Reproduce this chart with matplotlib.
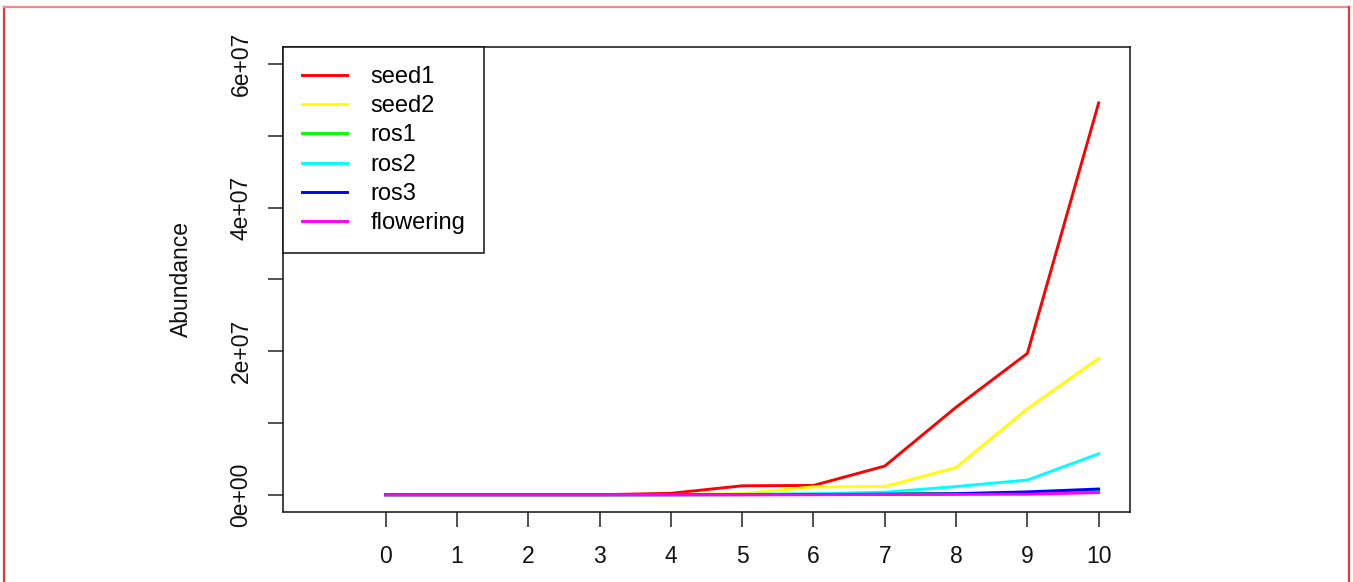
import numpy as np
import matplotlib
matplotlib.use("Agg")
import matplotlib.pyplot as plt
from matplotlib.lines import Line2D

# valores
generacion = list(range(11))
seed1 = [0, 0, 0, 0, 2.0e5, 1.25e6, 1.3e6, 4.0e6, 1.22e7, 1.97e7, 5.46e7]
seed2 = [0, 0, 0, 0, 3.0e4, 1.5e5, 1.1e6, 1.15e6, 3.8e6, 1.2e7, 1.9e7]
ros1 = [0, 0, 0, 0, 0, 2.0e4, 8.0e4, 1.5e5, 1.5e5, 3.0e5, 6.0e5]
ros2 = [0, 0, 0, 0, 1.0e4, 5.0e4, 1.5e5, 3.5e5, 1.15e6, 2.05e6, 5.7e6]
ros3 = [0, 0, 0, 0, 0, 1.0e4, 3.0e4, 8.0e4, 1.5e5, 4.0e5, 8.0e5]
flowering = [0, 0, 0, 0, 0, 0, 1.0e4, 3.0e4, 5.0e4, 8.0e4, 3.0e5]

etapas = ["seed1", "seed2", "ros1", "ros2", "ros3", "flowering"]
series = [seed1, seed2, ros1, ros2, ros3, flowering]
colores = ["#ff0000", "#ffff00", "#00ff00", "#00ffff", "#0000ff", "#ff00ff"]

ytick_vals = [0, 1e7, 2e7, 3e7, 4e7, 5e7, 6e7]
ytick_labels = ["0e+00", "", "2e+07", "", "4e+07", "", "6e+07"]

plt.rcParams["font.family"] = ["Liberation Sans", "DejaVu Sans"]

fig = plt.figure(figsize=(13.53, 5.82), dpi=100)
ax = fig.add_axes([0.2092, 0.1203, 0.626, 0.799])

for nombre, vals, c in zip(etapas, series, colores):
    ax.plot(generacion, vals, color=c, lw=2.1, label=nombre)

ax.set_xlim(-1.44, 10.44)
ax.set_ylim(-2.4e6, 6.24e7)

ax.set_xticks(generacion)
ax.set_xticklabels([str(g) for g in generacion])
ax.set_yticks(ytick_vals)
ax.set_yticklabels(ytick_labels, rotation=90, va="center")

ax.tick_params(axis="both", direction="out", length=11, width=1.1,
               color="#222222", labelsize=16.5, labelcolor="#111111")
ax.tick_params(axis="x", pad=13)
ax.tick_params(axis="y", pad=11)

for s in ax.spines.values():
    s.set_linewidth(1.2)
    s.set_color("#222222")

ax.set_ylabel("Abundance", fontsize=16.5, color="#111111")
ax.yaxis.set_label_coords(-0.106, 0.5)

leg = ax.legend(loc="upper left", bbox_to_anchor=(0, 1), borderaxespad=0,
                fontsize=17, fancybox=False, edgecolor="#111111",
                handlelength=1.9, handletextpad=1.0, labelspacing=0.31,
                borderpad=0.8, framealpha=1)
leg.get_frame().set_linewidth(1.1)

# marco rojo de la captura
fig.add_artist(Line2D([0.0033, 0.0033], [0, 0.9888], transform=fig.transFigure,
                      color="#e03a40", lw=1.6))
fig.add_artist(Line2D([0.0033, 0.997], [0.9888, 0.9888], transform=fig.transFigure,
                      color="#f08a8d", lw=1.6))
fig.add_artist(Line2D([0.997, 0.997], [0, 0.9888], transform=fig.transFigure,
                      color="#e03a40", lw=1.6))

fig.savefig("out.png", dpi=100)
